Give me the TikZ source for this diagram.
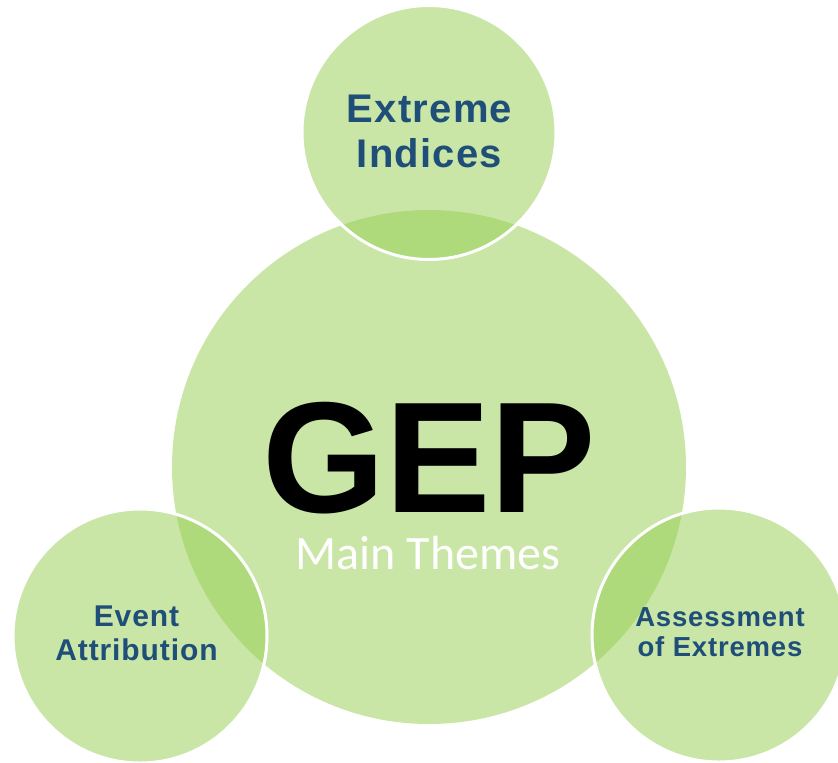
\documentclass[tikz,border=0pt]{standalone}
\usepackage{fontspec}
\newfontfamily\labfont{Liberation Sans}[LetterSpace=3]
\newfontfamily\gepfont{Liberation Sans}
\newfontfamily\calfont{Carlito}
\definecolor{gfill}{RGB}{151,207,86}
\definecolor{labblue}{RGB}{31,78,121}
\begin{document}
\begin{tikzpicture}[x=1pt,y=-1pt,
  bubble/.style={circle,inner sep=0pt,fill=gfill,fill opacity=0.52},
  satellite/.style={bubble,draw=white,line width=3pt,minimum size=254pt},
  lab/.style={anchor=base,inner sep=0pt,text=labblue,font=\labfont\bfseries\fontsize{#1}{#1}\selectfont},
]
\useasboundingbox (0,0) rectangle (838,763);
\clip (0,0) rectangle (838,763);
\node[bubble,minimum size=514pt] (core) at (429,467) {};
\node[satellite] (top) at (429,132.5) {};
\node[satellite] (left) at (140,636) {};
\node[satellite] (right) at (719,635) {};
% labels
\node[lab=40] (t1) at (429.5,122.7) {Extreme};
\node[lab=40] (t2) at (429.5,167) {Indices};
\node[lab=30] (l1) at (136.5,626) {Event};
\node[lab=30] (l2) at (136.5,660.7) {Attribution};
\node[lab=27.5] (r1) at (720,626) {Assessment};
\node[lab=27.5] (r2) at (720,656.7) {of Extremes};
\node[anchor=base,inner sep=0pt,text depth=0pt,font=\gepfont\bfseries\fontsize{158}{158}\selectfont] (gep) at (429,512) {GEP};
\node[anchor=base,inner sep=0pt,text height=31pt,text=white,font=\calfont\fontsize{48}{48}\selectfont] (mt) at (428,569.3) {Main Themes};
\end{tikzpicture}
\end{document}
